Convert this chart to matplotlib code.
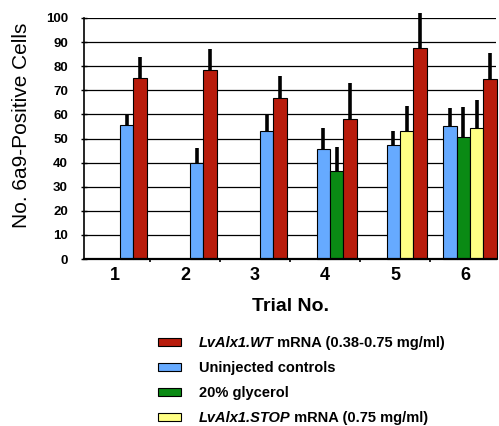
import numpy as np
import matplotlib
matplotlib.use("Agg")
import matplotlib.pyplot as plt
from matplotlib.patches import Patch

plt.rcParams['font.family'] = ['Liberation Sans', 'DejaVu Sans']

# data
trials = ['1', '2', '3', '4', '5', '6']
uninjected = [55.5, 40, 53, 45.5, 47.5, 55]
uninjected_err = [4.5, 6, 7, 9, 5.5, 7.5]
glycerol = [None, None, None, 36.5, None, 50.5]
glycerol_err = [None, None, None, 10, None, 12.5]
stop = [None, None, None, None, 53, 54.5]
stop_err = [None, None, None, None, 10.5, 11.5]
wt = [75, 78.5, 67, 58, 87.5, 74.5]
wt_err = [9, 8.5, 9, 15, 14.5, 11]

# legend text: (italic part, plain part)
legend_labels = [('LvAlx1.WT', ' mRNA (0.38-0.75 mg/ml)'),
                 ('', 'Uninjected controls'),
                 ('', '20% glycerol'),
                 ('LvAlx1.STOP', ' mRNA (0.75 mg/ml)')]
colors = {'wt': '#b81c0c', 'un': '#66aaff', 'gl': '#0a8a14', 'st': '#ffff84'}

fig = plt.figure(figsize=(4.99, 4.26), dpi=100)
W, H = 499, 426
ax = fig.add_axes([84 / W, 1 - 259 / H, (496 - 84) / W, 241 / H])

# bars sit right-aligned in each trial slot, in fixed series order
series = [('un', uninjected, uninjected_err),
          ('gl', glycerol, glycerol_err),
          ('st', stop, stop_err),
          ('wt', wt, wt_err)]
w = 0.19
for i in range(len(trials)):
    x_center = i + 1
    present = [(k, v[i], e[i]) for k, v, e in series if v[i] is not None]
    right = x_center + 0.5 - 0.05
    left = right - len(present) * w
    for j, (k, val, err) in enumerate(present):
        xl = left + j * w
        ax.bar(xl, val, width=w, align='edge', color=colors[k],
               edgecolor='black', linewidth=0.8, zorder=2, clip_on=False)
        ax.vlines(xl + w / 2, val, val + err, color='black', lw=2.6,
                  zorder=3, clip_on=False)

ax.set_xlim(0.5 + 4 / 70, 6.5 - 4 / 70)
ax.set_ylim(0, 100)
ax.set_yticks(np.arange(0, 101, 10))
ax.set_yticklabels([str(v) for v in range(0, 101, 10)], fontsize=9.5, fontweight='bold')
ax.set_xticks(range(1, 7))
ax.set_xticklabels(trials, fontsize=13, fontweight='bold')
ax.set_xticks(np.arange(1.5, 6, 1), minor=True)
ax.tick_params(axis='x', which='major', length=0, pad=6)
ax.tick_params(axis='x', which='minor', length=2, width=1.2, direction='out')
ax.tick_params(axis='y', length=5, width=1, direction='inout', pad=9)

ax.grid(axis='y', color='black', lw=0.9)
ax.set_axisbelow(True)
for s in ['top', 'right']:
    ax.spines[s].set_visible(False)
ax.spines['left'].set_linewidth(1.2)
ax.spines['bottom'].set_linewidth(1.6)

ax.set_ylabel('No. 6a9-Positive Cells', fontsize=15)
ax.yaxis.set_label_coords(-0.128, 0.556)
ax.set_xlabel('Trial No.', fontsize=14, fontweight='bold', labelpad=9.5)

handles = [Patch(facecolor=colors[k], edgecolor='black', linewidth=0.8)
           for k in ['wt', 'un', 'gl', 'st']]
first = [a if a else b for a, b in legend_labels]
leg = fig.legend(handles, first, loc='upper left',
                 bbox_to_anchor=(158 / W, 1 - 336 / H), frameon=False,
                 prop={'size': 10.5, 'weight': 'bold'}, handlelength=1.58,
                 handleheight=0.42, handletextpad=1.2, labelspacing=0.76,
                 borderpad=0, borderaxespad=0)
# plain remainder placed right after the italic part of the label
for txt, (ital, rest) in zip(leg.get_texts(), legend_labels):
    if ital:
        txt.set_style('italic')
        fig.add_artist(plt.Annotation(rest, xy=(1, 0), xycoords=txt,
                                      va='bottom', ha='left', zorder=10,
                                      fontsize=10.5, fontweight='bold'))

fig.savefig('out.png', dpi=100)
